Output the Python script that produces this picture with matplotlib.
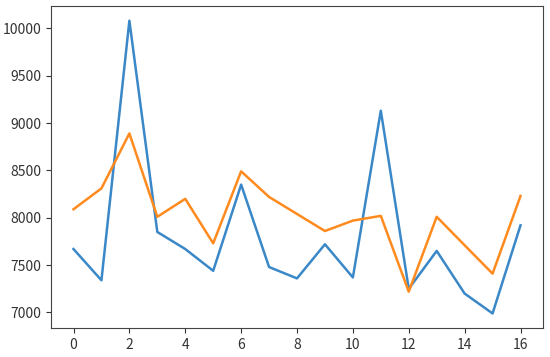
import numpy as np
import matplotlib.pyplot as plt

plt.rcParams['font.family'] = ['Noto Sans CJK SC', 'DejaVu Sans']

# 两条序列
x_idx = list(range(17))
blue_vals = [7670, 7340, 10080, 7850, 7670, 7440, 8350, 7480, 7360,
             7720, 7370, 9130, 7250, 7650, 7200, 6990, 7920]
orange_vals = [8090, 8310, 8890, 8010, 8200, 7730, 8490, 8220, 8040,
               7860, 7970, 8020, 7220, 8010, 7710, 7410, 8230]

fig = plt.figure(figsize=(5.5, 3.57), dpi=100)
ax = fig.add_axes([0.093, 0.081, 0.894, 0.902])
ax.plot(x_idx, blue_vals, color="#3a88c8", lw=1.8)
ax.plot(x_idx, orange_vals, color="#ff8a1e", lw=1.8)
ax.set_xticks(np.arange(0, 17, 2))
ax.set_yticks(np.arange(7000, 10001, 500))
ax.tick_params(colors="#333333")
for sp in ax.spines.values():
    sp.set_color("#444444")

fig.savefig("out.png", dpi=100)
